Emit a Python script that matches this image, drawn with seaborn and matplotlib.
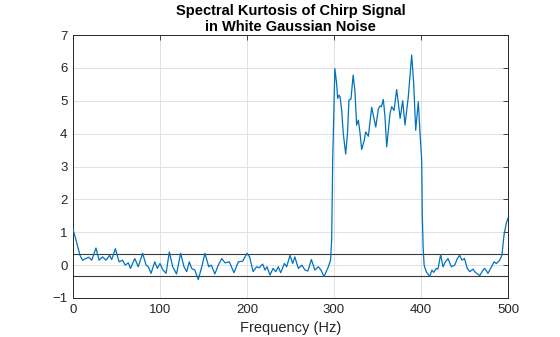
import matplotlib
matplotlib.use("Agg")
import matplotlib.pyplot as plt
import seaborn as sns
import pandas as pd

freq = [0, 4, 8, 11, 15, 18, 21.5, 26.4, 30, 34, 38, 42, 44.5, 48.7, 53, 57, 60, 63.6, 66, 71,
        75, 80, 84, 86.6, 89.7, 94, 97, 100, 103, 107, 110.7, 114.6, 119, 123.7, 127.6, 130.7,
        133.7, 136.4, 140, 144, 148, 151.7, 156, 159, 163, 167, 171, 174.7, 179.7, 185, 190,
        195, 200, 203, 207, 211, 214, 218, 220.7, 223, 226.4, 230, 233, 236, 238.7, 243, 245.6,
        249.4, 252.5, 255, 259, 263, 266.7, 270, 274, 278, 282, 285, 288.5, 293.5, 296, 297.3,
        298.5, 301, 303, 304.2, 305.7, 307, 308.8, 310.7, 313.4, 315.5, 317.2, 319.5, 322, 324,
        326, 328, 330, 331.8, 334.8, 336.4, 339.5, 343.3, 346, 348, 351, 353, 354.5, 356.7,
        358.6, 360.6, 364.4, 366.3, 369, 372, 374, 376, 379, 381.6, 385.4, 389.3, 391.6, 393.9,
        396.9, 398.9, 400.8, 401.5, 402.5, 403.6, 406, 410, 412.6, 414.6, 417.6, 419.5, 422.6,
        425.3, 428, 431, 434.9, 438.7, 441.8, 444.4, 447, 450, 453.2, 456, 459.8, 462.4, 467.5,
        471.3, 473.2, 477, 481, 484, 486.6, 490.5, 493, 495.4, 498, 500]
sk = [1.09, 0.71, 0.30, 0.15, 0.20, 0.24, 0.15, 0.52, 0.15, 0.25, 0.15, 0.30, 0.17, 0.50, 0.10,
      0.15, 0.00, 0.07, -0.10, 0.20, -0.05, 0.36, 0.00, -0.05, -0.25, 0.10, -0.10, 0.05, -0.13,
      -0.25, 0.40, -0.05, -0.27, 0.36, -0.05, -0.20, 0.10, -0.10, -0.15, -0.44, -0.05, 0.36,
      -0.05, 0.00, -0.27, 0.00, 0.20, 0.07, 0.10, -0.23, 0.10, 0.12, 0.36, 0.25, -0.20, -0.05,
      -0.08, 0.03, -0.15, -0.05, -0.30, -0.10, -0.20, -0.05, -0.23, 0.05, -0.05, 0.30, 0.05,
      0.25, -0.10, 0.00, -0.15, -0.18, 0.17, -0.15, -0.05, -0.15, -0.35, -0.05, 0.15, 0.76,
      3.2, 5.98, 5.53, 5.07, 5.17, 5.12, 4.71, 4.00, 3.38, 4.0, 5.02, 5.05, 5.78, 5.32, 4.26,
      4.41, 4.00, 3.52, 3.80, 4.05, 3.92, 4.80, 4.46, 4.20, 4.76, 4.84, 4.82, 5.04, 4.51, 3.60,
      4.61, 4.82, 4.70, 5.34, 4.92, 4.46, 5.00, 4.26, 5.12, 6.39, 5.53, 4.10, 4.97, 4.00, 3.19,
      1.52, 0.51, 0.00, -0.20, -0.35, -0.15, -0.22, -0.10, -0.12, 0.32, -0.05, 0.10, 0.20,
      -0.05, 0.00, 0.20, 0.30, 0.15, 0.20, -0.10, -0.20, -0.12, -0.22, -0.32, -0.15, -0.10,
      -0.25, -0.05, 0.10, 0.05, 0.15, 0.30, 0.91, 1.27, 1.43]
thresholds = [0.34, -0.34]
xticks = [0, 100, 200, 300, 400, 500]
yticks = [-1, 0, 1, 2, 3, 4, 5, 6, 7]

sns.set_style("white")
plt.rcParams['font.family'] = ['Liberation Sans', 'DejaVu Sans']

df = pd.DataFrame({"Frequency": freq, "SK": sk})

fig = plt.figure(figsize=(5.6, 3.37), dpi=100)
ax = fig.add_axes([73/560, 1 - 298/337, 435/560, 263/337])

for t in thresholds:
    ax.axhline(t, color='#3a3a3a', linewidth=0.8, zorder=2)

sns.lineplot(data=df, x="Frequency", y="SK", ax=ax, color='#0072BD', linewidth=0.9, zorder=3)
for ln in ax.lines:
    ln.set_solid_joinstyle('round')

ax.set_xlim(0, 500)
ax.set_ylim(-1, 7)
ax.set_xticks(xticks)
ax.set_yticks(yticks)
ax.grid(True, color='#dcdcdc', linewidth=0.6)
ax.set_axisbelow(True)
for s in ax.spines.values():
    s.set_color('#262626')
    s.set_linewidth(0.7)
ax.tick_params(direction='in', top=True, right=True, length=3.5, width=0.6,
               colors='#262626', labelsize=9.5, pad=4)
ax.set_xlabel("Frequency (Hz)", fontsize=10.5, color='#262626', labelpad=4)
ax.set_ylabel("")
ax.set_title("Spectral Kurtosis of Chirp Signal\nin White Gaussian Noise",
             fontsize=10.5, fontweight='bold', color='black', pad=3, linespacing=1.2)

fig.savefig("out.png", dpi=100)
